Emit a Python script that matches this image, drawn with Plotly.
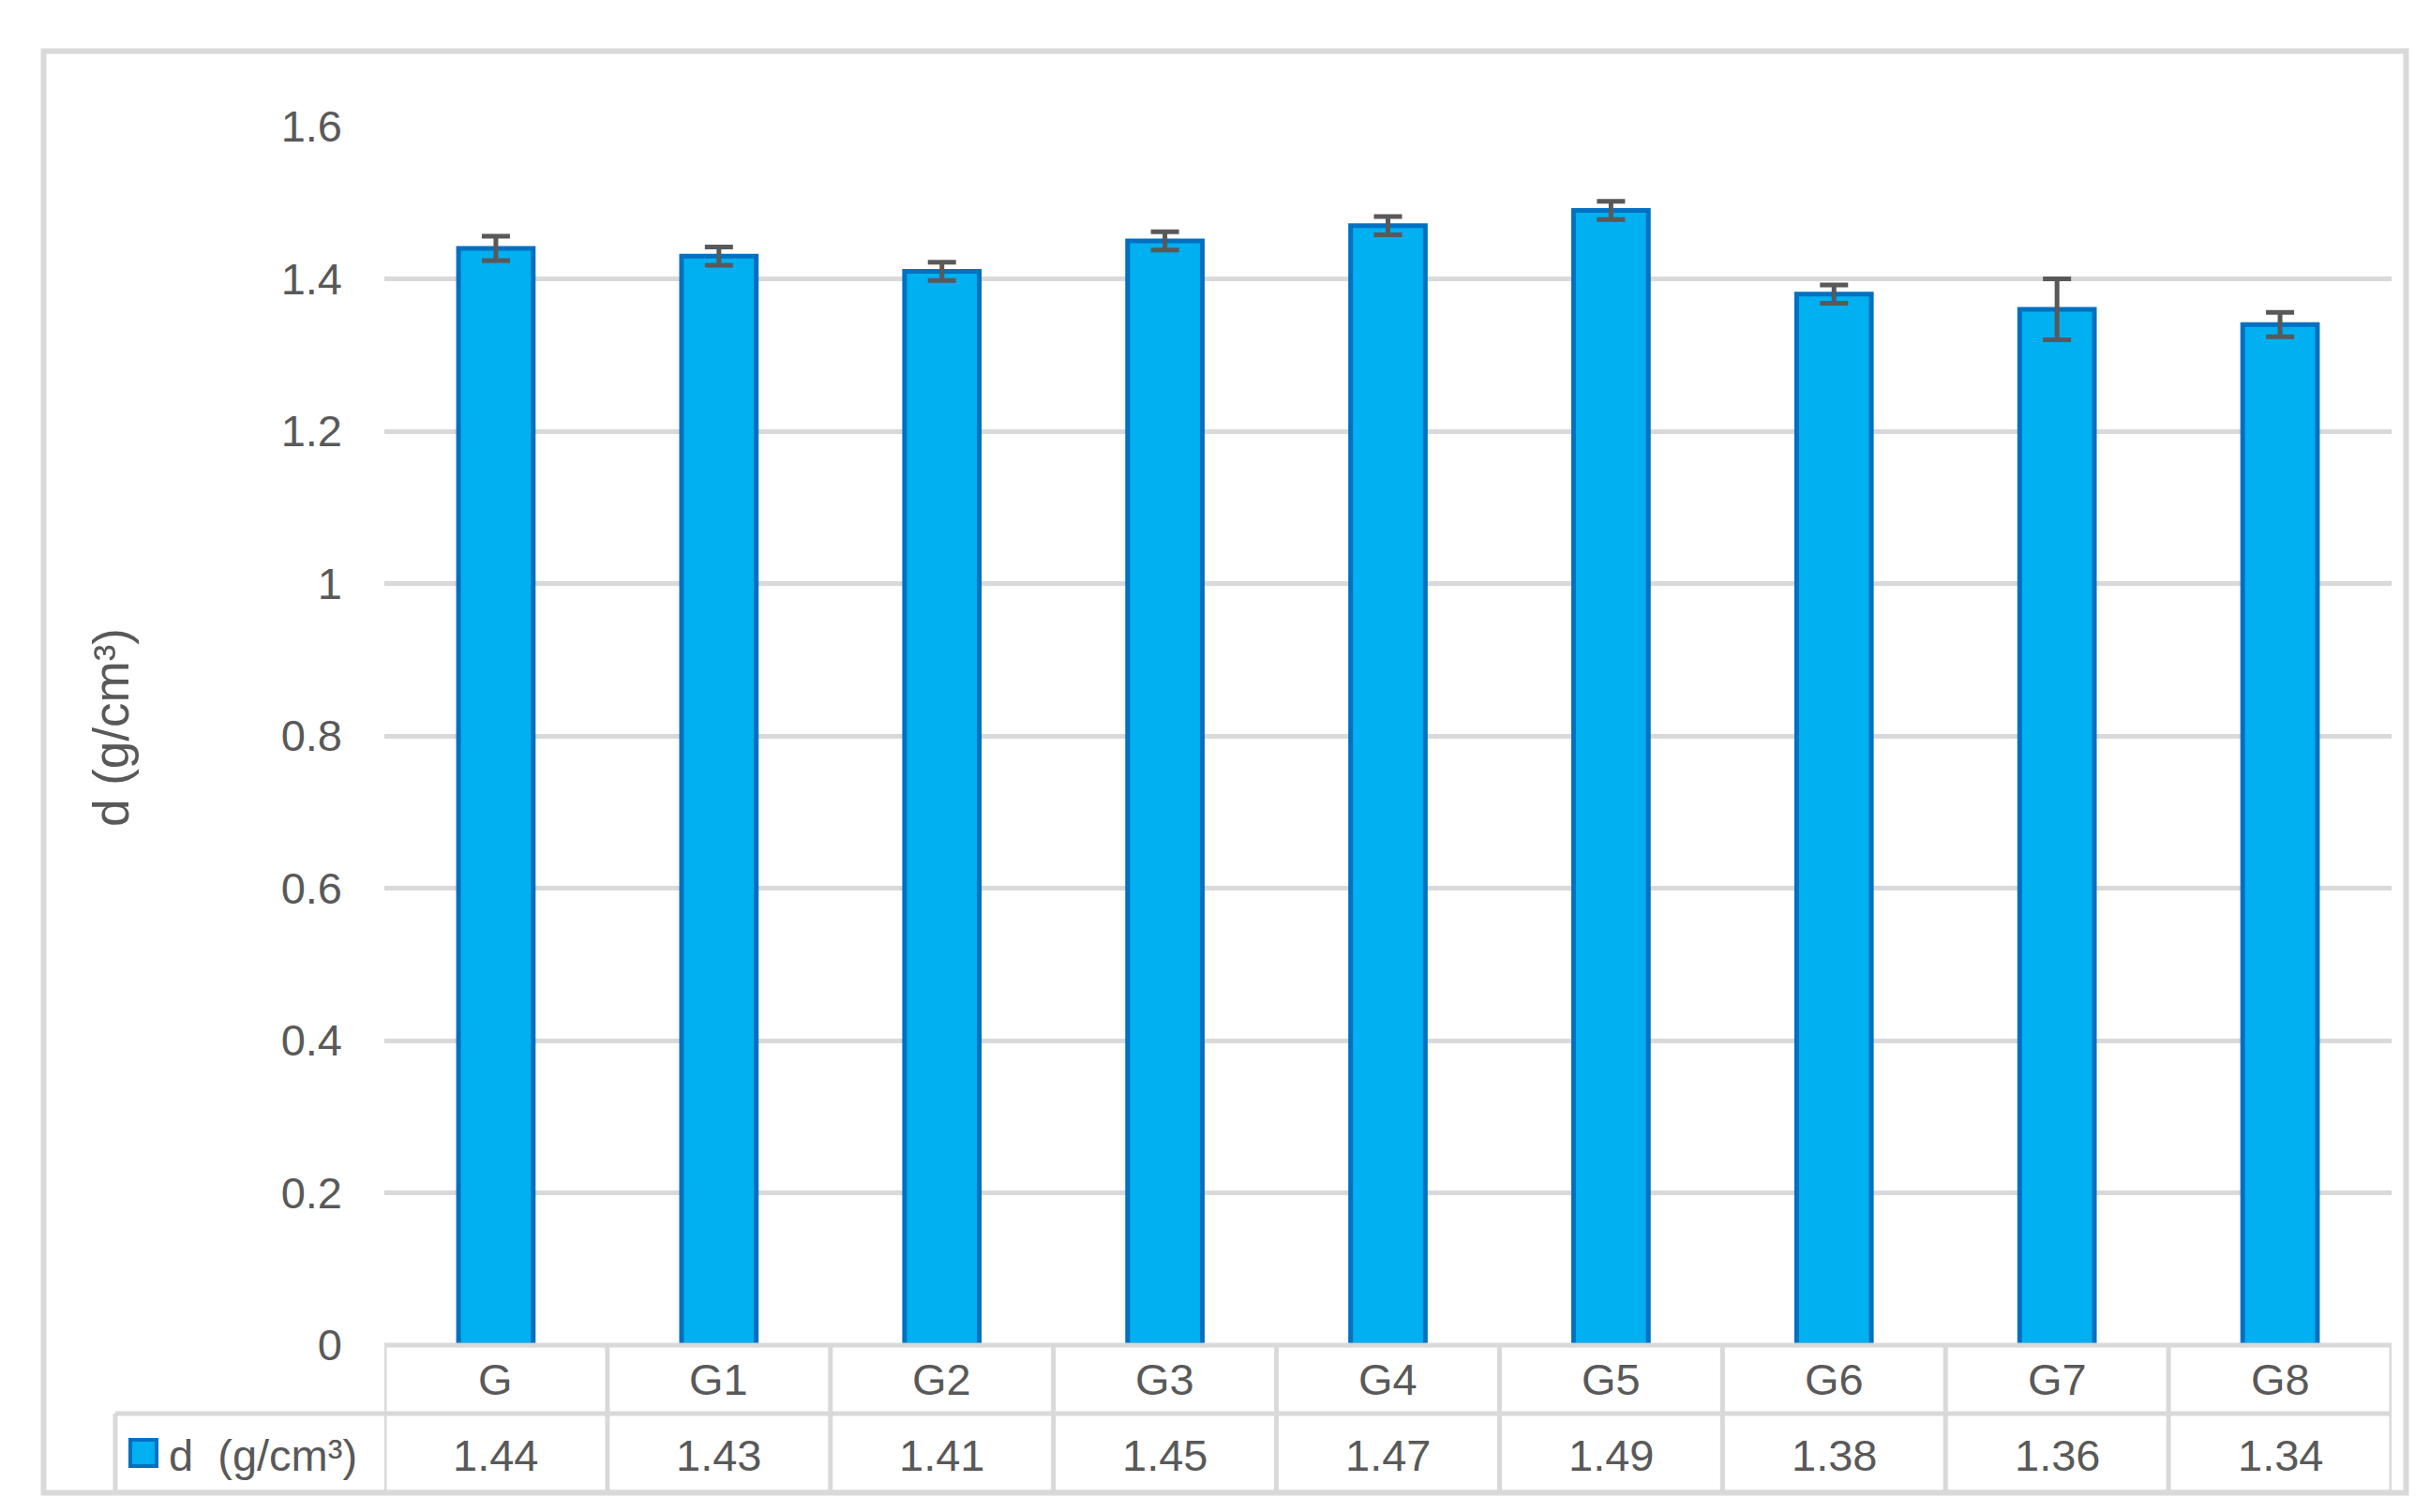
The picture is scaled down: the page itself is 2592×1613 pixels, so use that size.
import plotly.graph_objects as go

categories = ["G", "G1", "G2", "G3", "G4", "G5", "G6", "G7", "G8"]
density = [1.44, 1.43, 1.41, 1.45, 1.47, 1.49, 1.38, 1.36, 1.34]
errors = [0.016, 0.012, 0.012, 0.012, 0.012, 0.012, 0.012, 0.04, 0.016]
value_labels = ["1.44", "1.43", "1.41", "1.45", "1.47", "1.49", "1.38", "1.36", "1.34"]
series_name = "d  (g/cm³)"
axis_title = "d (g/cm³)"
y_ticks = [0, 0.2, 0.4, 0.6, 0.8, 1.0, 1.2, 1.4, 1.6]
y_ticktext = ["0", "0.2", "0.4", "0.6", "0.8", "1", "1.2", "1.4", "1.6"]

W, H = 2592, 1613
L, R, T, B = 402, 2543, 127, 1427  # plot area in pixels

def px(x):
    return (x - L) / (R - L)

def py(y):
    return (B - y) / (B - T)

GRID = "#D9D9D9"
TXT = "#595959"
FONT = "Liberation Sans, Arial, sans-serif"

fig = go.Figure()
fig.add_trace(go.Bar(
    x=categories, y=density,
    marker=dict(color="#00B0F0", line=dict(color="#0070C0", width=5)),
    width=0.335,
    error_y=dict(type="data", array=errors, visible=True,
                 color=TXT, thickness=5, width=15),
    showlegend=False,
))

shapes = []
# outer chart border
shapes.append(dict(type="rect", xref="paper", yref="paper",
                   x0=px(38.5), x1=px(2558.5), y0=py(1584.5), y1=py(46.5),
                   line=dict(color=GRID, width=6), fillcolor="rgba(0,0,0,0)", layer="below"))
# data table horizontal lines
shapes.append(dict(type="line", xref="paper", yref="paper",
                   x0=0, x1=1, y0=py(1427), y1=py(1427), line=dict(color=GRID, width=5)))
shapes.append(dict(type="line", xref="paper", yref="paper",
                   x0=px(115), x1=1, y0=py(1500), y1=py(1500), line=dict(color=GRID, width=5)))
shapes.append(dict(type="line", xref="paper", yref="paper",
                   x0=px(115), x1=1, y0=py(1584), y1=py(1584), line=dict(color=GRID, width=5)))
# legend cell left edge
shapes.append(dict(type="line", xref="paper", yref="paper",
                   x0=px(115), x1=px(115), y0=py(1500), y1=py(1584), line=dict(color=GRID, width=5)))
# column separators at category boundaries
for i in range(len(categories) + 1):
    shapes.append(dict(type="line", xref="x", yref="paper",
                       x0=i - 0.5, x1=i - 0.5, y0=py(1427), y1=py(1584),
                       line=dict(color=GRID, width=5)))
# legend key
shapes.append(dict(type="rect", xref="paper", yref="paper",
                   x0=px(131), x1=px(159), y0=py(1556), y1=py(1528),
                   fillcolor="#00B0F0", line=dict(color="#0070C0", width=4)))

annotations = []
for c, v in zip(categories, value_labels):
    annotations.append(dict(x=c, y=py(1463), xref="x", yref="paper", text=c,
                            showarrow=False, xanchor="center", yanchor="middle",
                            font=dict(family=FONT, size=47, color=TXT)))
    annotations.append(dict(x=c, y=py(1544), xref="x", yref="paper", text=v,
                            showarrow=False, xanchor="center", yanchor="middle",
                            font=dict(family=FONT, size=47, color=TXT)))
annotations.append(dict(x=px(170), y=py(1544), xref="paper", yref="paper", text=series_name,
                        showarrow=False, xanchor="left", yanchor="middle",
                        font=dict(family=FONT, size=47, color=TXT)))
annotations.append(dict(x=px(110), y=py(768), xref="paper", yref="paper", text=axis_title,
                        showarrow=False, xanchor="center", yanchor="middle", textangle=-90,
                        font=dict(family=FONT, size=53, color=TXT)))

fig.update_layout(
    width=W, height=H,
    margin=dict(l=L, r=W - R, t=T, b=H - B, pad=0),
    paper_bgcolor="white", plot_bgcolor="white",
    shapes=shapes, annotations=annotations,
    bargap=0.665,
    xaxis=dict(type="category", showticklabels=False, showgrid=False, zeroline=False,
               showline=False, ticks="", range=[-0.5, len(categories) - 0.5]),
    yaxis=dict(range=[0, 1.6], tickvals=y_ticks, ticktext=y_ticktext,
               showgrid=True, gridcolor=GRID, gridwidth=5, zeroline=False,
               showline=False, ticks="", ticklabelstandoff=44,
               tickfont=dict(family=FONT, size=47, color=TXT)),
)

fig.write_html("out.html")
